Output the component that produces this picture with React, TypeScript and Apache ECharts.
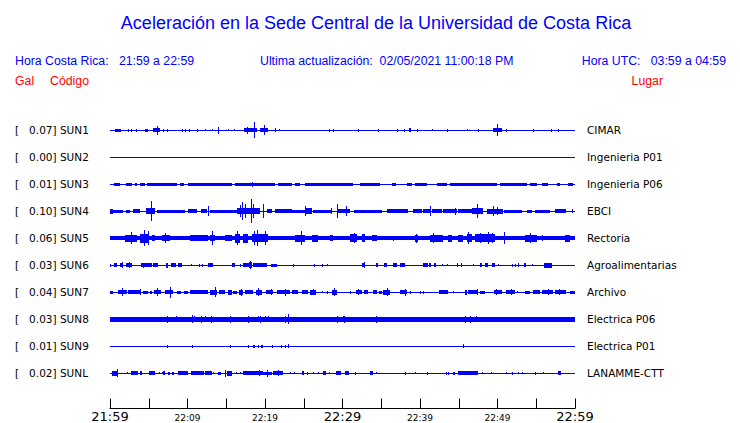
import React, { useEffect, useRef } from "react";
import * as echarts from "echarts";

// Station codes, peak acceleration (Gal) and place names
const codes = ["SUN1", "SUN2", "SUN3", "SUN4", "SUN5", "SUN6", "SUN7", "SUN8", "SUN9", "SUNL"];
const peaks = ["0.07", "0.00", "0.01", "0.10", "0.06", "0.03", "0.04", "0.03", "0.01", "0.02"];
const places = ["CIMAR", "Ingenieria P01", "Ingenieria P06", "EBCI", "Rectoria", "Agroalimentarias", "Archivo", "Electrica P06", "Electrica P01", "LANAMME-CTT"];

// Time axis: minutes after 21:59; labels every 10 minutes
const tickLabels = ["21:59", "22:09", "22:19", "22:29", "22:39", "22:49", "22:59"];
const majorLabels = ["21:59", "22:29", "22:59"];

// Background trace half-height for each station (display units)
const baseAmp = [0.5, 0.5, 0.5, 0.5, 2, 0.5, 0.5, 2.5, 0.5, 0.5];

// Bursts: [start minute, end minute, half-height]
const SUN1 = [
  [0.6, 1.4, 1.5], [2.3, 2.3, 1.5], [2.7, 2.7, 1.5], [3.4, 3.4, 1.5], [4.5, 4.9, 1.2], [5.5, 6.5, 2], [6.0, 6.0, 4.5],
  [6.8, 6.8, 1.5], [7.4, 7.4, 1.5], [9.3, 9.3, 1.2], [9.7, 9.7, 1.2], [10.2, 10.2, 1.2], [11.2, 11.2, 1.5], [12.3, 12.3, 1],
  [13.2, 13.2, 1], [13.9, 13.9, 3.5], [15.2, 15.2, 1], [16.0, 16.0, 1], [17.3, 19.0, 2], [19.3, 20.4, 2], [17.7, 17.7, 3.5],
  [18.6, 18.6, 8], [19.9, 19.9, 5], [21.3, 21.3, 2], [21.8, 21.8, 1], [28.3, 28.3, 1.5], [28.8, 28.8, 1.5], [32.0, 32.0, 1.5],
  [34.6, 34.6, 1.5], [37.0, 37.0, 1.5], [37.9, 38.1, 1.5], [38.6, 38.9, 2], [39.6, 39.6, 1.5], [41.5, 41.5, 1], [43.5, 43.5, 1.5],
  [46.1, 46.1, 1], [47.5, 47.5, 1.5], [49.4, 50.6, 2], [49.9, 49.9, 6], [51.1, 51.1, 1.5], [54.6, 54.7, 1.5], [56.9, 56.9, 1.5],
  [57.8, 57.9, 1.2],
];
const SUN2: number[][] = [];
const SUN3 = [
  [0.5, 1.3, 1.5], [2.1, 2.8, 1.5], [3.2, 3.5, 1.5], [3.9, 4.5, 1.5], [4.8, 8.6, 1.5], [9.0, 9.5, 1.5], [10.1, 15.7, 1.5],
  [16.1, 21.3, 1.5], [18.3, 18.3, 2.5], [21.7, 23.5, 1.5], [23.9, 24.5, 1.5], [25.2, 31.4, 1.5], [32.3, 34.8, 1.5], [36.4, 36.9, 1.5],
  [38.3, 39.0, 1.5], [39.4, 40.9, 1.5], [42.2, 43.5, 1.5], [43.9, 49.9, 1.5], [50.3, 53.8, 1.5], [54.2, 55.1, 1.5],
  [55.7, 56.5, 1.5], [57.7, 58.1, 1.5], [59.1, 59.7, 1.5],
];
const SUN4 = [
  [0, 0.4, 2.5], [0.4, 1.7, 1.8], [2.0, 2.6, 1.5], [3.0, 3.9, 2], [4.7, 5.8, 3], [5.3, 5.3, 10], [6.0, 9.7, 1.7], [10.0, 11.2, 2],
  [11.7, 12.5, 2], [12.6, 12.6, 5], [12.9, 16.4, 1.7], [16.4, 19.4, 3], [16.8, 16.8, 6], [17.0, 17.0, 9], [17.4, 17.4, 7],
  [18.2, 18.2, 12], [18.5, 18.5, 7], [19.7, 19.7, 7], [20.3, 20.9, 2], [21.3, 23.5, 2], [23.5, 25.2, 1.8], [25.2, 25.2, 5],
  [25.2, 26.1, 3], [26.2, 28.6, 1.8], [28.5, 28.5, 3], [29.3, 29.3, 7], [29.4, 31.0, 2], [30.5, 30.5, 5], [31.5, 35.1, 1.8],
  [35.7, 38.5, 2], [39.1, 40.3, 2], [40.4, 41.3, 2], [41.3, 41.3, 5], [41.5, 42.8, 2], [43.0, 44.8, 2], [44.5, 44.5, 3.5],
  [44.9, 46.7, 2], [46.7, 48.1, 3], [47.4, 47.4, 7], [48.6, 50.7, 2.5], [49.4, 49.4, 5], [49.9, 49.9, 4], [50.9, 53.2, 1.5],
  [53.8, 54.5, 1.5], [54.8, 56.8, 1.8], [57.4, 58.9, 2], [59.6, 59.7, 2],
];
const SUN5 = [
  [1.9, 3.5, 3.5], [2.7, 2.7, 6], [3.9, 4.9, 4.5], [4.4, 4.4, 8], [4.9, 4.9, 7], [5.4, 5.8, 3], [6.7, 7.7, 3], [7.1, 7.1, 5],
  [10.3, 12.6, 2.8], [12.9, 13.5, 3], [13.2, 13.2, 7], [14.8, 15.7, 3], [16.1, 16.8, 4.5], [16.4, 16.4, 7], [17.1, 17.8, 4.5],
  [18.3, 20.4, 4], [18.6, 18.6, 7], [19.0, 19.0, 8], [20.0, 20.0, 7], [23.9, 25.2, 3.5], [24.6, 24.6, 7], [26.1, 26.8, 3.5],
  [28.4, 28.8, 3], [31.0, 31.9, 4], [31.5, 31.5, 5], [32.5, 32.9, 4], [33.8, 34.5, 3], [36.5, 36.5, 2.5], [39.4, 39.7, 3.5],
  [39.5, 39.5, 4.5], [41.3, 43.0, 3.5], [41.7, 41.7, 5], [43.6, 44.1, 3.5], [44.9, 45.5, 3.5], [46.1, 46.7, 4], [46.2, 46.2, 6],
  [47.1, 49.7, 4], [47.7, 47.7, 5], [48.8, 48.8, 6], [49.3, 49.3, 5], [50.8, 50.8, 6], [53.5, 55.1, 3.5], [54.2, 54.2, 5],
  [55.7, 55.7, 3], [58.7, 59.4, 3.5],
];
const SUN6 = [
  [0, 0.1, 1.5], [0.5, 0.9, 1.8], [1.3, 1.7, 2.2], [1.5, 1.5, 3], [2.1, 2.8, 2.2], [2.4, 2.4, 3], [4.0, 5.4, 1.8], [4.3, 4.3, 2.5],
  [5.5, 6.2, 1.8], [7.2, 7.5, 2.5], [7.9, 8.5, 1.8], [8.8, 9.3, 1.8], [10.5, 10.5, 1.2], [11.5, 11.5, 1.5], [11.9, 11.9, 1.5],
  [12.6, 13.3, 1.8], [15.7, 16.1, 1.8], [16.8, 16.8, 1.5], [17.2, 17.9, 1.8], [17.9, 18.3, 2.8], [18.1, 18.1, 4], [18.4, 20.3, 2],
  [20.8, 21.5, 1.5], [23.6, 23.6, 1.5], [26.3, 26.3, 1.5], [27.4, 27.4, 1.5], [28.0, 28.0, 1.2], [32.5, 32.9, 1.8], [32.8, 32.8, 3],
  [34.3, 34.6, 1.8], [35.4, 35.7, 1.8], [36.5, 37.0, 2.2], [37.4, 38.1, 1.8], [40.4, 41.0, 1.8], [41.2, 41.4, 1.8], [41.8, 42.1, 1.8],
  [42.8, 42.8, 1.2], [43.5, 43.5, 1], [44.8, 44.8, 1.8], [45.3, 45.3, 1.8], [46.8, 46.8, 1], [47.7, 48.0, 1.8], [48.4, 48.8, 1.8],
  [49.3, 49.7, 1.8], [50.1, 50.1, 1.2], [51.9, 51.9, 1.5], [52.3, 52.3, 1.5], [52.6, 52.6, 1.8], [53.4, 53.7, 1.8], [54.5, 54.5, 1],
  [56.0, 57.0, 2.5],
];
const SUN7 = [
  [0, 0.4, 1.5], [1.0, 2.2, 2], [1.5, 1.5, 4], [2.3, 3.9, 2], [3.9, 3.9, 3], [4.3, 4.9, 1.5], [5.2, 5.4, 1.5], [5.7, 6.6, 2.2],
  [6.0, 6.0, 4], [7.1, 8.1, 2], [7.7, 7.7, 5.5], [8.6, 9.2, 1.5], [9.6, 10.1, 1.5], [10.3, 12.6, 2], [12.9, 13.8, 2.5], [13.5, 13.5, 5],
  [14.1, 14.9, 2], [15.2, 15.7, 2.5], [15.9, 16.4, 1.5], [16.6, 17.2, 2.5], [16.9, 16.9, 3.5], [17.4, 18.5, 2], [18.8, 19.6, 2.5],
  [19.1, 19.1, 4], [20.1, 21.0, 2], [20.8, 20.8, 3], [21.5, 23.2, 2], [22.6, 22.6, 3.5], [23.5, 24.3, 2], [24.8, 25.5, 2],
  [25.8, 26.6, 2.5], [26.2, 26.2, 3], [27.4, 27.4, 1.2], [28.0, 28.0, 1.5], [28.6, 29.3, 2.5], [28.9, 28.9, 4], [31.0, 31.0, 1.5],
  [31.7, 32.5, 2.2], [32.0, 32.0, 3], [32.8, 33.3, 2], [33.9, 34.5, 2], [34.7, 35.1, 1.5], [35.2, 36.1, 2.5], [35.7, 35.7, 4],
  [37.4, 38.3, 2.2], [38.1, 38.1, 3.5], [38.7, 38.7, 1.5], [40.0, 40.0, 1.5], [40.4, 40.4, 1.5], [42.5, 43.6, 1.8], [44.3, 44.3, 1],
  [45.8, 46.1, 2.5], [46.2, 47.4, 1.8], [47.4, 47.4, 3], [47.7, 48.4, 1.5], [49.5, 50.6, 2], [49.8, 49.8, 3], [51.1, 52.3, 2],
  [51.7, 51.7, 3], [52.5, 52.5, 1], [53.5, 54.2, 1.5], [54.6, 55.5, 2], [55.7, 57.2, 2.2], [56.5, 56.5, 3], [57.4, 58.9, 1.8],
  [57.9, 57.9, 3], [59.4, 60, 1.5],
];
const SUN8 = [
  [0, 0.3, 2.5], [7.4, 7.4, 3.5], [8.5, 8.5, 3], [10.6, 10.6, 4], [10.8, 10.8, 3], [11.7, 11.7, 3.5], [12.3, 12.3, 3], [13.0, 13.0, 3.5],
  [15.5, 15.5, 3.5], [17.8, 17.8, 3.5], [19.1, 19.1, 3], [19.4, 19.4, 3.5], [20.0, 20.0, 3], [20.4, 20.4, 3], [22.6, 22.6, 3.5],
  [23.0, 23.0, 5], [29.3, 29.3, 3.5], [30.1, 30.1, 3], [30.2, 30.2, 3.5], [34.3, 34.3, 3.5], [35.9, 35.9, 2.5], [45.8, 45.8, 3.5],
  [46.5, 46.5, 3.5], [47.2, 47.2, 3], [59.0, 60, 2.5],
];
const SUN9 = [
  [7.4, 7.4, 1.5], [10.6, 10.6, 1.5], [15.5, 15.5, 1.5], [17.8, 17.8, 1.5], [18.5, 18.5, 1.5], [18.6, 18.6, 1.5], [19.1, 19.1, 1.5],
  [19.5, 19.5, 1.5], [19.6, 19.6, 1.5], [20.9, 20.9, 1.5], [22.1, 22.1, 1.5], [22.6, 22.6, 1.5], [23.0, 23.0, 2], [45.5, 45.5, 2],
];
const SUNL = [
  [0.3, 1.0, 2.5], [0.9, 0.9, 4], [2.2, 2.2, 1.2], [2.7, 3.6, 1.8], [3.9, 4.1, 1.8], [5.0, 5.8, 1.8], [6.3, 6.3, 1.2], [6.7, 6.7, 1.2],
  [6.8, 7.1, 1.8], [7.5, 7.7, 1.5], [8.0, 8.3, 1.5], [8.8, 10.1, 1.8], [10.5, 12.1, 1.8], [12.3, 13.2, 1.8], [13.3, 13.3, 1.2],
  [13.9, 14.3, 1.5], [14.8, 14.8, 3.5], [15.1, 15.7, 2.5], [16.3, 16.3, 1.2], [16.8, 16.8, 1.2], [17.2, 19.7, 1.8], [19.2, 19.2, 3],
  [19.7, 20.9, 1.5], [20.2, 20.2, 3.5], [21.0, 22.3, 2], [21.7, 21.7, 3], [23.2, 23.2, 1.2], [23.7, 23.7, 1.2], [24.8, 25.0, 1.8],
  [25.4, 25.4, 1.5], [26.2, 26.2, 1], [26.8, 26.8, 1], [27.5, 27.9, 1.8], [28.3, 28.3, 1], [29.2, 29.8, 1.8], [30.3, 30.9, 1.8],
  [31.6, 31.6, 1.5], [33.5, 33.9, 1.8], [34.3, 34.3, 1.2], [38.1, 38.1, 1.5], [39.4, 39.4, 1.2], [40.9, 40.9, 1.5], [43.4, 43.4, 1.5],
  [43.6, 43.6, 1.5], [44.2, 44.2, 1.5], [44.4, 44.4, 1.5], [44.9, 47.5, 1.8], [48.0, 48.0, 1.2], [49.2, 49.2, 1], [51.1, 51.1, 1.2],
  [51.9, 52.0, 1.5], [52.6, 52.6, 1.2], [53.2, 53.2, 1.2], [54.8, 54.8, 1.5], [55.9, 55.9, 1], [57.8, 58.2, 1.8],
];
const traces = [SUN1, SUN2, SUN3, SUN4, SUN5, SUN6, SUN7, SUN8, SUN9, SUNL];

// Header texts
const TITLE = "Aceleración en la Sede Central de la Universidad de Costa Rica";
const HORA_CR = "Hora Costa Rica:   21:59 a 22:59";
const ULTIMA = "Ultima actualización:  02/05/2021 11:00:18 PM";
const HORA_UTC = "Hora UTC:   03:59 a 04:59";

const BLUE = "#0000ff";
const RED = "#ff0000";
const SANS = '"Liberation Sans", Arial, sans-serif';
const DEJAVU = '"DejaVu Sans", sans-serif';

export default function App() {
  const ref = useRef<HTMLDivElement>(null);
  useEffect(() => {
    if (!ref.current) return;
    const chart = echarts.init(ref.current, null, { renderer: "svg" });

    const data: number[][] = [];
    traces.forEach((tr, row) => {
      data.push([0, 60, row, baseAmp[row]]);
      tr.forEach((e) => data.push([e[0], e[1], row, e[2]]));
    });

    const hdr = (text: string, x: number, y: number, fill: string, align: string, size = 12.3) => ({
      type: "text",
      x,
      y,
      style: { text, fill, font: `${size}px ${SANS}`, textAlign: align, textVerticalAlign: "middle" },
    });

    const option: any = {
      animation: false,
      backgroundColor: "#ffffff",
      grid: { left: 110, right: 165, top: 117, height: 270 },
      xAxis: {
        type: "value",
        min: 0,
        max: 60,
        interval: 5,
        offset: 22,
        axisLine: { show: true, onZero: false, lineStyle: { color: "#000", width: 1 } },
        axisTick: { show: true, inside: true, length: 10, lineStyle: { color: "#000", width: 1 } },
        splitLine: { show: false },
        axisLabel: {
          showMinLabel: true,
          showMaxLabel: true,
          margin: 1,
          formatter: (v: number) => {
            if (v % 10 !== 0) return "";
            const lab = tickLabels[v / 10];
            return majorLabels.includes(lab) ? `{big|${lab}}` : `{small|${lab}}`;
          },
          rich: {
            big: { fontFamily: DEJAVU, fontSize: 13, color: "#000", lineHeight: 14 },
            small: { fontFamily: DEJAVU, fontSize: 9, color: "#000", lineHeight: 14, padding: [2, 0, 0, 0] },
          },
        },
      },
      yAxis: [
        {
          type: "category",
          inverse: true,
          data: codes,
          axisLine: { show: false },
          axisTick: { show: false },
          splitLine: { show: false },
          axisLabel: {
            align: "left",
            margin: 95,
            fontFamily: DEJAVU,
            fontSize: 10.5,
            color: "#000",
            formatter: (v: string, i: number) => `[   ${peaks[i]}] ${v}`,
          },
        },
        {
          type: "category",
          position: "right",
          inverse: true,
          data: places,
          axisLine: { show: false },
          axisTick: { show: false },
          splitLine: { show: false },
          axisLabel: { margin: 12, fontFamily: DEJAVU, fontSize: 10.5, color: "#000" },
        },
      ],
      graphic: [
        hdr(TITLE, 376, 23, BLUE, "center", 18),
        hdr(HORA_CR, 15, 61, BLUE, "left"),
        hdr(ULTIMA, 260, 61, BLUE, "left"),
        hdr(HORA_UTC, 726, 61, BLUE, "right"),
        hdr("Gal", 15, 81, RED, "left"),
        hdr("Código", 50, 81, RED, "left"),
        hdr("Lugar", 663, 81, RED, "right"),
      ],
      series: [
        {
          type: "custom",
          xAxisIndex: 0,
          yAxisIndex: 0,
          encode: { x: [0, 1], y: 2 },
          data,
          renderItem: (params: any, api: any) => {
            const t0 = api.value(0);
            const t1 = api.value(1);
            const row = api.value(2);
            const amp = api.value(3);
            const p0 = api.coord([t0, row]);
            const p1 = api.coord([t1, row]);
            const x0 = Math.round(p0[0]);
            const x1 = Math.max(Math.round(p1[0]), x0 + 1);
            const y0 = Math.round(p0[1] - amp);
            const y1 = Math.max(Math.round(p0[1] + amp), y0 + 1);
            return {
              type: "rect",
              shape: { x: x0, y: y0, width: x1 - x0, height: y1 - y0 },
              style: { fill: BLUE },
            };
          },
        },
      ],
    };
    chart.setOption(option);
    return () => chart.dispose();
  }, []);
  return <div ref={ref} style={{ position: "absolute", left: 0, top: 0, width: 740, height: 423 }} />;
}
